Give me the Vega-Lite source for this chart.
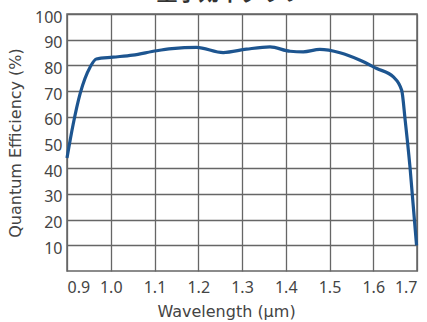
{
  "$schema": "https://vega.github.io/schema/vega-lite/v6.json",
  "width": 350,
  "height": 257,
  "autosize": {"type": "none"},
  "padding": {"left": 67, "top": 14, "right": 10, "bottom": 51},
  "background": "white",
  "title": {
    "text": "量子効率グラフ",
    "font": "Noto Sans CJK JP",
    "fontSize": 21,
    "fontWeight": "bold",
    "color": "#333333",
    "anchor": "middle",
    "baseline": "alphabetic",
    "offset": 1,
    "dx": -12,
    "dy": 13
  },
  "data": {
    "values": [
      {"wl": 0.9, "qe": 44},
      {"wl": 0.914, "qe": 57},
      {"wl": 0.93, "qe": 69},
      {"wl": 0.953, "qe": 79.4},
      {"wl": 0.967, "qe": 82.5},
      {"wl": 1.005, "qe": 83.2},
      {"wl": 1.05, "qe": 84},
      {"wl": 1.105, "qe": 85.7},
      {"wl": 1.14, "qe": 86.5},
      {"wl": 1.196, "qe": 87},
      {"wl": 1.257, "qe": 85},
      {"wl": 1.31, "qe": 86.3},
      {"wl": 1.364, "qe": 87.2},
      {"wl": 1.41, "qe": 85.5},
      {"wl": 1.44, "qe": 85.3},
      {"wl": 1.478, "qe": 86.2},
      {"wl": 1.524, "qe": 84.9},
      {"wl": 1.57, "qe": 82},
      {"wl": 1.608, "qe": 78.8},
      {"wl": 1.646, "qe": 75.5},
      {"wl": 1.665, "qe": 70.3},
      {"wl": 1.673, "qe": 58.6},
      {"wl": 1.684, "qe": 40.4},
      {"wl": 1.699, "qe": 10}
    ]
  },
  "mark": {"type": "line", "color": "#1d5590", "strokeWidth": 3.2, "interpolate": "monotone", "clip": false},
  "encoding": {
    "x": {
      "field": "wl",
      "type": "quantitative",
      "scale": {"domain": [0.9, 1.7], "nice": false, "zero": false},
      "axis": {
        "values": [0.9, 1.0, 1.1, 1.2, 1.3, 1.4, 1.5, 1.6, 1.7],
        "format": ".1f",
        "title": "Wavelength (μm)",
        "titleX": 159,
        "ticks": false,
        "domain": false,
        "grid": true,
        "gridColor": "#666666",
        "gridWidth": 1.3,
        "labelFont": "Noto Sans",
        "labelFontSize": 16,
        "labelColor": "#444444",
        "labelPadding": 8,
        "titleFont": "DejaVu Sans",
        "titleFontSize": 16,
        "titleFontWeight": "normal",
        "titleColor": "#444444",
        "titlePadding": 8
      }
    },
    "y": {
      "field": "qe",
      "type": "quantitative",
      "scale": {"domain": [0, 100], "nice": false},
      "axis": {
        "values": [10, 20, 30, 40, 50, 60, 70, 80, 90, 100],
        "title": "Quantum Efficiency (%)",
        "ticks": false,
        "domain": false,
        "grid": true,
        "gridColor": "#666666",
        "gridWidth": 1.3,
        "labelFont": "Noto Sans",
        "labelFontSize": 16,
        "labelColor": "#444444",
        "labelPadding": 5,
        "labelOffset": 3,
        "titleFont": "DejaVu Sans",
        "titleFontSize": 16,
        "titleFontWeight": "normal",
        "titleColor": "#444444",
        "titlePadding": 11
      }
    }
  },
  "config": {
    "view": {"stroke": "#666666", "strokeWidth": 1.5}
  }
}
